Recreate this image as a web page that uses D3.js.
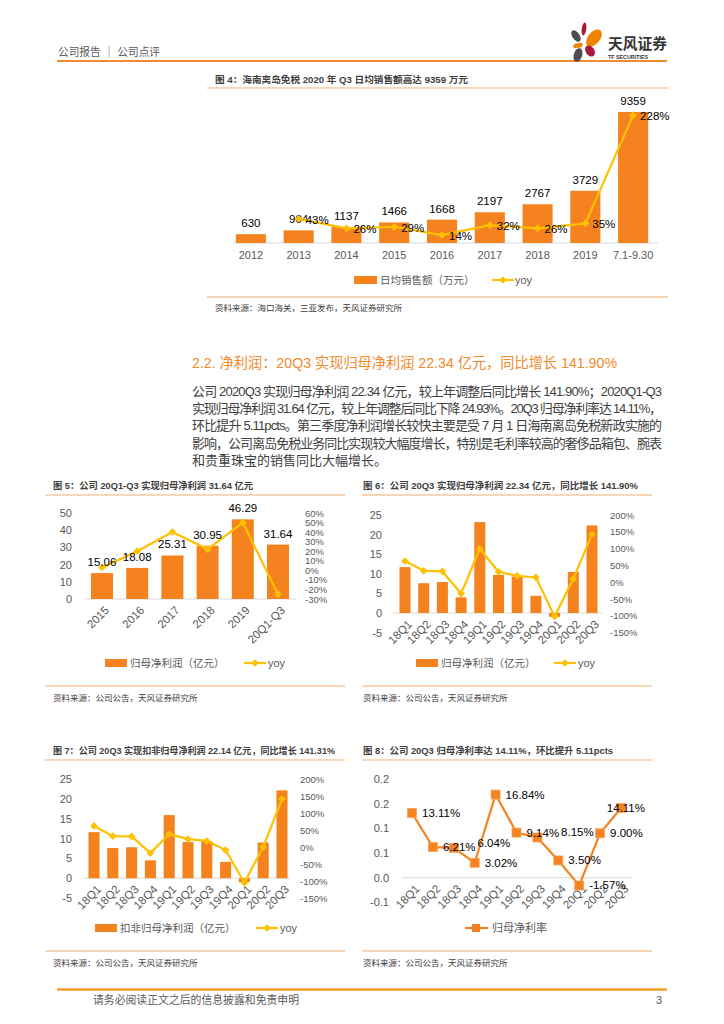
<!DOCTYPE html>
<html>
<head>
<meta charset="utf-8">
<script src="https://cdn.jsdelivr.net/npm/d3@7"></script>
<style>
  body { margin: 0; background: #fff; }
  text { font-family: "Liberation Sans", Arial, "Noto Sans CJK SC", sans-serif; }
</style>
</head>
<body>
<svg id="page" width="724" height="1024"></svg>
<script>
// ---- data ----
const fig4Years = ["2012", "2013", "2014", "2015", "2016", "2017", "2018", "2019", "7.1-9.30"];
const fig4Sales = [630, 904, 1137, 1466, 1668, 2197, 2767, 3729, 9359];
const fig4Yoy = [null, 43, 26, 29, 14, 32, 26, 35, 228];

const fig5Years = ["2015", "2016", "2017", "2018", "2019", "20Q1-Q3"];
const fig5Profit = [15.06, 18.08, 25.31, 30.95, 46.29, 31.64];
const fig5Yoy = [3, 20, 40, 22, 50, -25];

const quarters = ["18Q1", "18Q2", "18Q3", "18Q4", "19Q1", "19Q2", "19Q3", "19Q4", "20Q1", "20Q2", "20Q3"];
const fig6Profit = [11.7, 7.6, 7.9, 4.0, 23.2, 9.7, 9.3, 4.4, -1.0, 10.5, 22.34];
const fig6Yoy = [63, 34, 32, -34, 99, 31, 19, 14, -102, 10, 142];
const fig7Profit = [11.6, 7.6, 7.8, 4.5, 15.9, 9.1, 9.3, 4.1, -1.0, 9.0, 22.14];
const fig7Yoy = [62, 32, 31, -18, 38, 23, 18, -9, -105, 0, 141];
const fig8Margin = [13.11, 6.21, 6.04, 3.02, 16.84, 9.14, 8.15, 3.50, -1.57, 9.00, 14.11];
const fig8Ticks = [-0.05, 0, 0.05, 0.1, 0.15, 0.2];
const fig8TickLabels = ["-0.1", "0.0", "0.1", "0.1", "0.2", "0.2"];

const paragraph = [
  "公司 2020Q3 实现归母净利润 22.34 亿元，较上年调整后同比增长 141.90%；2020Q1-Q3",
  "实现归母净利润 31.64 亿元，较上年调整后同比下降 24.93%。20Q3 归母净利率达 14.11%，",
  "环比提升 5.11pcts。第三季度净利润增长较快主要是受 7 月 1 日海南离岛免税新政实施的",
  "影响，公司离岛免税业务同比实现较大幅度增长，特别是毛利率较高的奢侈品箱包、腕表",
  "和贵重珠宝的销售同比大幅增长。"
];

const ORANGE = "#F4831F", GOLD = "#FFC000", GRAY = "#595959", RULE = "#F6AE72";

const svg = d3.select("#page");
svg.append("rect").attr("width", 724).attr("height", 1024).attr("fill", "#fff");

function txt(g, x, y, s, o = {}) {
  const t = g.append("text").attr("x", x).attr("y", y).text(s)
    .attr("font-size", o.size || 10)
    .attr("fill", o.fill || "#333")
    .attr("font-weight", o.weight || "normal")
    .attr("text-anchor", o.anchor || "start");
  if (o.len) t.attr("textLength", o.len).attr("lengthAdjust", o.adjust || "spacingAndGlyphs");
  return t;
}

const diamondPath = d3.symbol(d3.symbolSquare, 30)();
function diamond(g, x, y) {
  g.append("path").attr("d", diamondPath)
    .attr("transform", `translate(${x},${y}) rotate(45)`)
    .attr("fill", GOLD);
}

// figure frame: title, rule under title, bottom rule and source line
function frame(f) {
  const g = svg.append("g");
  txt(g, f.titleX, f.titleY, f.title, { size: 9.5, weight: "bold", fill: "#404040", len: f.titleLen });
  g.append("line").attr("x1", f.x1).attr("x2", f.x2).attr("y1", f.lineY).attr("y2", f.lineY)
    .attr("stroke", RULE).attr("stroke-width", 1.2);
  g.append("line").attr("x1", f.x1).attr("x2", f.x2).attr("y1", f.bottomY).attr("y2", f.bottomY)
    .attr("stroke", RULE).attr("stroke-width", 1.2);
  txt(g, f.titleX, f.srcY, f.src, { size: 8.5, fill: "#404040" });
}

// ---- header ----
const head = svg.append("g");
txt(head, 58, 56, "公司报告 ｜ 公司点评", { size: 11.5, fill: GRAY, len: 102 });
head.append("line").attr("x1", 57).attr("x2", 667).attr("y1", 61).attr("y2", 61)
  .attr("stroke", "#F08C2E").attr("stroke-width", 2);
const petals = [
  [584, 29, 2.3, 6.5, 8, "#A8193C"],
  [576, 36, 3.6, 6.5, -35, "#4D4D4D"],
  [594, 38, 6, 10, 40, "#F08300"],
  [578, 45.5, 5, 2.4, -12, "#F08300"],
  [578, 55, 4.2, 7, 18, "#4D4D4D"],
  [590, 51, 4.3, 6, -35, "#A8193C"]
];
petals.forEach(p => {
  head.append("ellipse").attr("rx", p[2]).attr("ry", p[3])
    .attr("transform", `translate(${p[0]},${p[1]}) rotate(${p[4]})`).attr("fill", p[5]);
});
txt(head, 608, 49, "天风证券", { size: 15, weight: "bold", fill: "#333", len: 59 });
txt(head, 608, 58.5, "TF SECURITIES", { size: 5.5, weight: "bold", fill: "#333", len: 40 });

// ---- figure 4 ----
frame({ titleX: 215, titleY: 82.5, lineY: 88, bottomY: 297, srcY: 311, x1: 207, x2: 668, titleLen: 253,
  title: "图 4：海南离岛免税 2020 年 Q3 日均销售额高达 9359 万元",
  src: "资料来源：海口海关，三亚发布，天风证券研究所" });
(function () {
  const g = svg.append("g");
  const x = d3.scaleBand().domain(fig4Years).range([227, 657]).paddingInner(0.37).paddingOuter(0.185);
  const y = d3.scaleLinear().domain([0, 10000]).range([243, 103]);
  const y2 = d3.scaleLinear().domain([0, 250]).range([243, 103]);
  g.append("line").attr("x1", 233).attr("x2", 658).attr("y1", y(0)).attr("y2", y(0))
    .attr("stroke", "#D9D9D9").attr("stroke-width", 1);
  g.selectAll(".bar").data(fig4Sales).join("rect")
    .attr("x", (d, i) => x(fig4Years[i])).attr("width", x.bandwidth())
    .attr("y", d => y(d)).attr("height", d => y(0) - y(d)).attr("fill", ORANGE);
  fig4Sales.forEach((d, i) => {
    txt(g, x(fig4Years[i]) + x.bandwidth() / 2, y(d) - 7, d, { size: 11.5, anchor: "middle", fill: "#000" });
  });
  const ax = g.append("g").attr("transform", `translate(0,${y(0)})`)
    .call(d3.axisBottom(x).tickSize(0).tickPadding(8));
  ax.select(".domain").remove();
  ax.selectAll("text").attr("font-size", 11).attr("fill", GRAY).attr("font-family", null);
  const pts = fig4Yoy.map((v, i) => ({ v, cx: x(fig4Years[i]) + x.bandwidth() / 2 })).filter(p => p.v != null);
  g.append("path").datum(pts)
    .attr("d", d3.line().x(p => p.cx).y(p => y2(p.v)))
    .attr("fill", "none").attr("stroke", GOLD).attr("stroke-width", 2.2);
  pts.forEach(p => diamond(g, p.cx, y2(p.v)));
  pts.forEach(p => txt(g, p.cx + 7, y2(p.v) + 5, p.v + "%", { size: 11.5, fill: "#000" }));
  // legend
  g.append("rect").attr("x", 354).attr("y", 276).attr("width", 23).attr("height", 8).attr("fill", ORANGE);
  txt(g, 380, 284, "日均销售额（万元）", { size: 10.5, fill: GRAY });
  g.append("line").attr("x1", 492).attr("x2", 514).attr("y1", 280).attr("y2", 280)
    .attr("stroke", GOLD).attr("stroke-width", 2.2);
  diamond(g, 503, 280);
  txt(g, 515, 284, "yoy", { size: 11, fill: GRAY });
})();

// ---- section heading and paragraph ----
const sec = svg.append("g");
txt(sec, 192, 368, "2.2. 净利润：20Q3 实现归母净利润 22.34 亿元，同比增长 141.90%",
  { size: 14.5, fill: "#F08A2C", len: 425 });
paragraph.forEach((line, i) => {
  txt(sec, 192, 395.5 + i * 17.4, line,
    { size: 13, fill: "#404040", len: i < 4 ? 470 : null, adjust: "spacing" });
});

// ---- combo chart: bars (left axis) + yoy line (right axis) ----
function combo(c) {
  const g = svg.append("g");
  const x = d3.scaleBand().domain(c.cats).range(c.xRange).paddingInner(c.pad).paddingOuter(c.pad / 2);
  const y = d3.scaleLinear().domain(c.yDom).range(c.yRange);
  const y2 = d3.scaleLinear().domain(c.y2Dom).range(c.yRange);
  const cx = i => x(c.cats[i]) + x.bandwidth() / 2;

  const la = g.append("g").attr("transform", `translate(${c.leftX},0)`)
    .call(d3.axisLeft(y).tickValues(c.leftTicks).tickSize(0).tickPadding(0).tickFormat(d => String(d)));
  la.select(".domain").remove();
  la.selectAll("text").attr("font-size", 11).attr("fill", GRAY).attr("font-family", null);
  const ra = g.append("g").attr("transform", `translate(${c.rightX},0)`)
    .call(d3.axisRight(y2).tickValues(c.rightTicks).tickSize(0).tickPadding(0).tickFormat(d => d + "%"));
  ra.select(".domain").remove();
  ra.selectAll("text").attr("font-size", 9.5).attr("fill", GRAY).attr("font-family", null);

  g.append("line").attr("x1", c.axisX[0]).attr("x2", c.axisX[1]).attr("y1", y(0)).attr("y2", y(0))
    .attr("stroke", "#D9D9D9").attr("stroke-width", 1);
  g.selectAll(".bar").data(c.bars).join("rect")
    .attr("x", (d, i) => x(c.cats[i])).attr("width", x.bandwidth())
    .attr("y", d => Math.min(y(d), y(0))).attr("height", d => Math.abs(y(0) - y(d)))
    .attr("fill", ORANGE);

  const xa = g.append("g").attr("transform", `translate(0,${y(0)})`)
    .call(d3.axisBottom(x).tickSize(0));
  xa.select(".domain").remove();
  xa.selectAll("text").attr("font-size", 11.5).attr("fill", GRAY).attr("font-family", null)
    .attr("text-anchor", "end").attr("y", 0).attr("dy", "0.35em")
    .attr("transform", "translate(5,9) rotate(-45)");

  const pts = c.yoy.map((v, i) => ({ v, cx: cx(i) }));
  g.append("path").datum(pts)
    .attr("d", d3.line().x(p => p.cx).y(p => y2(p.v)))
    .attr("fill", "none").attr("stroke", GOLD).attr("stroke-width", 2.2);
  pts.forEach(p => diamond(g, p.cx, y2(p.v)));

  if (c.valueLabels) {
    c.bars.forEach((d, i) => txt(g, cx(i), y(d) - 7, d.toFixed(2), { size: 11.5, anchor: "middle", fill: "#000" }));
  }
  const L = c.legend;
  g.append("rect").attr("x", L.rectX).attr("y", L.y - 4).attr("width", 22).attr("height", 8).attr("fill", ORANGE);
  txt(g, L.rectX + 25, L.y + 4, L.label, { size: 10.5, fill: GRAY });
  g.append("line").attr("x1", L.lineX - 11).attr("x2", L.lineX + 11).attr("y1", L.y).attr("y2", L.y)
    .attr("stroke", GOLD).attr("stroke-width", 2.2);
  diamond(g, L.lineX, L.y);
  txt(g, L.lineX + 13, L.y + 4, "yoy", { size: 11, fill: GRAY });
}

// ---- figure 5 ----
frame({ titleX: 53, titleY: 488.5, lineY: 495, bottomY: 686, srcY: 701, x1: 45, x2: 345, titleLen: 200,
  title: "图 5：公司 20Q1-Q3 实现归母净利润 31.64 亿元",
  src: "资料来源：公司公告，天风证券研究所" });
combo({
  cats: fig5Years, bars: fig5Profit, yoy: fig5Yoy,
  xRange: [84.4, 295.6], pad: 0.375,
  yDom: [0, 50], yRange: [599, 513], y2Dom: [-30, 60],
  leftX: 72, rightX: 305, leftTicks: d3.range(0, 51, 10), rightTicks: d3.range(-30, 61, 10),
  axisX: [85, 297], valueLabels: true,
  legend: { rectX: 105, y: 663, label: "归母净利润（亿元）", lineX: 255 }
});

// ---- figure 6 ----
frame({ titleX: 363, titleY: 488.5, lineY: 495, bottomY: 686, srcY: 701, x1: 362, x2: 652, titleLen: 275,
  title: "图 6：公司 20Q3 实现归母净利润 22.34 亿元，同比增长 141.90%",
  src: "资料来源：公司公告，天风证券研究所" });
combo({
  cats: quarters, bars: fig6Profit, yoy: fig6Yoy,
  xRange: [395.65, 601.35], pad: 0.41,
  yDom: [-5, 25], yRange: [632.6, 515], y2Dom: [-150, 200],
  leftX: 382, rightX: 610, leftTicks: d3.range(-5, 26, 5), rightTicks: d3.range(-150, 201, 50),
  axisX: [393, 602], valueLabels: false,
  legend: { rectX: 416, y: 663, label: "归母净利润（亿元）", lineX: 565 }
});

// ---- figure 7 ----
frame({ titleX: 53, titleY: 753.5, lineY: 760, bottomY: 951, srcY: 966, x1: 45, x2: 345, titleLen: 282,
  title: "图 7：公司 20Q3 实现扣非归母净利润 22.14 亿元，同比增长 141.31%",
  src: "资料来源：公司公告，天风证券研究所" });
combo({
  cats: quarters, bars: fig7Profit, yoy: fig7Yoy,
  xRange: [84.6, 291.4], pad: 0.41,
  yDom: [-5, 25], yRange: [898, 779], y2Dom: [-150, 200],
  leftX: 72, rightX: 300, leftTicks: d3.range(-5, 26, 5), rightTicks: d3.range(-150, 201, 50),
  axisX: [83, 290], valueLabels: false,
  legend: { rectX: 95, y: 928, label: "扣非归母净利润（亿元）", lineX: 267 }
});

// ---- figure 8 ----
frame({ titleX: 363, titleY: 753.5, lineY: 760, bottomY: 951, srcY: 966, x1: 362, x2: 652, titleLen: 250,
  title: "图 8：公司 20Q3 归母净利率达 14.11%，环比提升 5.11pcts",
  src: "资料来源：公司公告，天风证券研究所" });
(function () {
  const g = svg.append("g");
  const x = d3.scalePoint().domain(quarters).range([401.55, 631.45]).padding(0.5);
  const y = d3.scaleLinear().domain([-0.05, 0.2]).range([902.4, 779]);
  const la = g.append("g").attr("transform", "translate(389,0)")
    .call(d3.axisLeft(y).tickValues(fig8Ticks).tickSize(0).tickPadding(0)
      .tickFormat((d, i) => fig8TickLabels[i]));
  la.select(".domain").remove();
  la.selectAll("text").attr("font-size", 11).attr("fill", GRAY).attr("font-family", null);
  g.append("line").attr("x1", 402).attr("x2", 632).attr("y1", y(0)).attr("y2", y(0))
    .attr("stroke", "#D9D9D9").attr("stroke-width", 1);
  const xa = g.append("g").attr("transform", `translate(0,${y(0)})`)
    .call(d3.axisBottom(x).tickSize(0));
  xa.select(".domain").remove();
  xa.selectAll("text").attr("font-size", 11.5).attr("fill", GRAY).attr("font-family", null)
    .attr("text-anchor", "end").attr("y", 0).attr("dy", "0.35em")
    .attr("transform", "translate(5,9) rotate(-45)");
  const pts = fig8Margin.map((v, i) => ({ v, cx: x(quarters[i]), cy: y(v / 100) }));
  g.append("path").datum(pts)
    .attr("d", d3.line().x(p => p.cx).y(p => p.cy))
    .attr("fill", "none").attr("stroke", ORANGE).attr("stroke-width", 2.2);
  g.selectAll(".mk").data(pts).join("rect")
    .attr("x", p => p.cx - 4.5).attr("y", p => p.cy - 4.5).attr("width", 9).attr("height", 9)
    .attr("fill", ORANGE).attr("stroke", "#F8A55C").attr("stroke-width", 0.8);
  // data labels to the right; nudged when they would collide with the previous label
  let prev = null;
  pts.forEach(p => {
    let lx = p.cx + 10, ly = p.cy;
    const t = txt(g, lx, ly + 4, p.v.toFixed(2) + "%", { size: 11.5, fill: "#000" });
    const w = t.node().getComputedTextLength();
    if (prev && lx < prev.x + prev.w && Math.abs(ly - prev.y) < 11) {
      if (ly >= prev.y) { lx = prev.x + prev.w + 2; ly -= 5; }
      else { ly = prev.y - 11; }
    }
    if (lx + w > 645) lx = 645 - w;
    t.attr("x", lx).attr("y", ly + 4);
    prev = { x: lx, y: ly, w };
  });
  g.append("line").attr("x1", 465).attr("x2", 488).attr("y1", 928).attr("y2", 928)
    .attr("stroke", ORANGE).attr("stroke-width", 2.2);
  g.append("rect").attr("x", 472).attr("y", 924).attr("width", 8).attr("height", 8).attr("fill", ORANGE);
  txt(g, 492, 932, "归母净利率", { size: 11, fill: GRAY });
})();

// ---- footer ----
const foot = svg.append("g");
foot.append("line").attr("x1", 57).attr("x2", 667).attr("y1", 989.5).attr("y2", 989.5)
  .attr("stroke", "#F0A030").attr("stroke-width", 2.5);
txt(foot, 93, 1004, "请务必阅读正文之后的信息披露和免责申明", { size: 10.8, fill: GRAY, len: 206 });
txt(foot, 662, 1004, "3", { size: 11, fill: GRAY, anchor: "end" });
</script>
</body>
</html>
